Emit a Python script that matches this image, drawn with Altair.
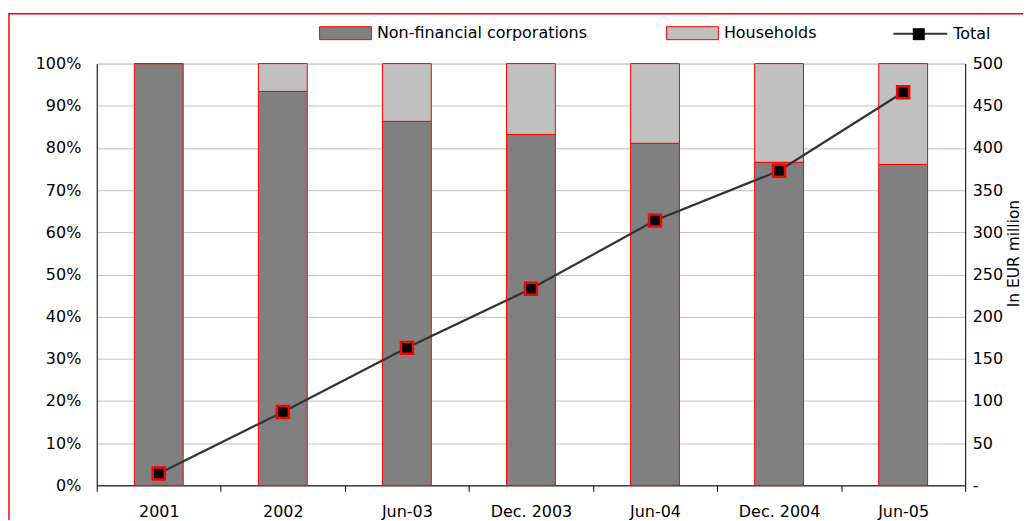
import altair as alt
import pandas as pd

# ---- data ----
periods = ["2001", "2002", "Jun-03", "Dec. 2003", "Jun-04", "Dec. 2004", "Jun-05"]
nfc_share = [100.0, 93.4, 86.3, 83.2, 81.1, 76.6, 76.1]
hh_share = [0.0, 6.6, 13.7, 16.8, 18.9, 23.4, 23.9]
total = [14, 87, 163, 233, 314, 373, 466]
sectors = ["Non-financial corporations", "Households"]

rows = []
for p, a, b in zip(periods, nfc_share, hh_share):
    rows.append({"Period": p, "Sector": sectors[0], "Share": a, "Ord": 0})
    rows.append({"Period": p, "Sector": sectors[1], "Share": b, "Ord": 1})
bars_df = pd.DataFrame(rows)
tot_df = pd.DataFrame({"Period": periods, "Total": total,
                       "LineKey": ["Total"] * len(periods),
                       "PtKey": ["Total "] * len(periods)})

FONT = "DejaVu Sans"
FS = 16
W, H = 871, 423

x_enc = alt.X("Period:N", sort=periods,
              scale=alt.Scale(paddingInner=0, paddingOuter=0),
              axis=alt.Axis(title=None, labelAngle=0, tickBand="extent",
                            domainColor="black", tickColor="black", tickSize=6,
                            labelPadding=12, labelFontSize=FS, labelFont=FONT,
                            labelColor="black", grid=False))

bars = alt.Chart(bars_df).mark_bar(size=49, stroke="#FF0000", strokeWidth=1).encode(
    x=x_enc,
    y=alt.Y("Share:Q", stack="zero",
            scale=alt.Scale(domain=[0, 100], nice=False),
            axis=alt.Axis(title=None, values=list(range(0, 101, 10)),
                          labelExpr="datum.value + '%'", grid=True,
                          gridColor="#C0C0C0", gridWidth=1, ticks=False, tickSize=0,
                          domainColor="black", labelPadding=16, labelFontSize=FS,
                          labelFont=FONT, labelColor="black")),
    fill=alt.Fill("Sector:N", scale=alt.Scale(domain=sectors, range=["#808080", "#C0C0C0"]),
                  legend=alt.Legend(title=None, orient="none", legendX=223, legendY=-57,
                                    direction="horizontal",
                                    symbolType="M-1,-0.25H1V0.25H-1Z", symbolSize=2704,
                                    symbolStrokeColor="#FF0000", symbolStrokeWidth=1,
                                    labelFontSize=16, labelFont=FONT, labelColor="black",
                                    labelLimit=0, labelOffset=5, columnPadding=77,
                                    padding=0)),
    order=alt.Order("Ord:Q"),
)

line = alt.Chart(tot_df).mark_line(strokeWidth=2.2).encode(
    x=x_enc,
    y=alt.Y("Total:Q", scale=alt.Scale(domain=[0, 500], nice=False),
            axis=alt.Axis(orient="right", title="In EUR million",
                          values=list(range(0, 501, 50)),
                          labelExpr="datum.value == 0 ? '-' : datum.label",
                          grid=False, ticks=False, tickSize=0, domainColor="black",
                          labelPadding=7, labelFontSize=FS, labelFont=FONT,
                          labelColor="black", titleFont=FONT, titleFontSize=15.5,
                          titleFontWeight="normal", titleColor="black",
                          titleAngle=270, titleBaseline="middle",
                          titleX=48, titleY=190)),
    stroke=alt.Stroke("LineKey:N", scale=alt.Scale(range=["#333333"]),
                      legend=alt.Legend(title=None, orient="none", legendX=798, legendY=-58,
                                        symbolType="stroke", symbolSize=2916,
                                        symbolStrokeWidth=2, labelFontSize=16,
                                        labelFont=FONT, labelColor="black",
                                        labelLimit=0, labelOffset=5, padding=0)),
)

points = alt.Chart(tot_df).mark_point(shape="square", filled=True, fill="black",
                                       stroke="#FF0000", strokeWidth=2.5, size=144,
                                       opacity=1).encode(
    x=x_enc,
    y=alt.Y("Total:Q", scale=alt.Scale(domain=[0, 500], nice=False), axis=None),
    shape=alt.Shape("PtKey:N", scale=alt.Scale(range=["square"]),
                    legend=alt.Legend(title=None, orient="none", legendX=817, legendY=-37,
                                      symbolFillColor="black", symbolStrokeColor="#FF0000",
                                      symbolStrokeWidth=2.5, symbolSize=144,
                                      labelExpr="''", labelFontSize=1, padding=0)),
)

frame = alt.Chart(pd.DataFrame({"k": [0]})).mark_rect(
    fill=None, stroke="#FF0000", strokeWidth=1.5).encode(
    x=alt.value(-88), x2=alt.value(W + 200), y=alt.value(-50), y2=alt.value(H + 200))

chart = alt.layer(bars, line, points, frame).resolve_scale(
    y="independent").properties(
    width=W, height=H,
    autosize=alt.AutoSizeParams(type="none"),
    padding={"left": 89, "top": 55, "right": 58, "bottom": 34},
).configure_view(stroke=None).configure(background="white")

chart.save("out.html", embed_options={"renderer": "svg", "actions": False})
